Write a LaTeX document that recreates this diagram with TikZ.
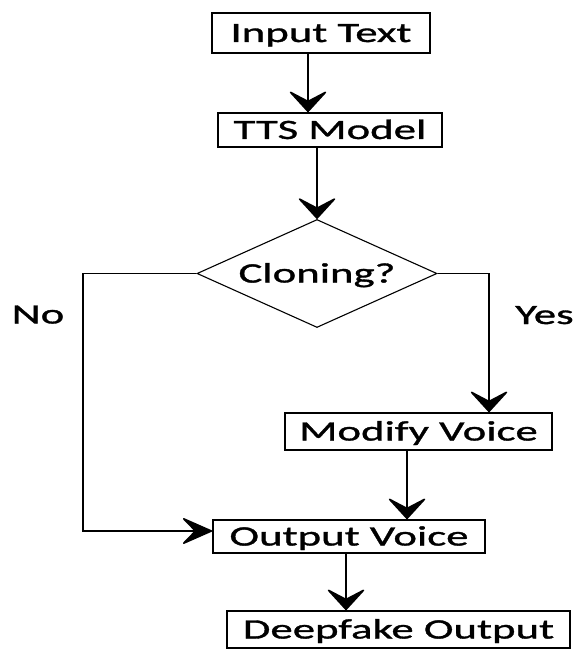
\documentclass[tikz,border=0pt]{standalone}
\usepackage{fontspec}
\setmainfont[FakeStretch=1.6,FakeBold=1.2]{Carlito}
\usetikzlibrary{shapes.geometric,arrows.meta}
\begin{document}
\begin{tikzpicture}[x=1pt,y=-1pt,
  every node/.style={font=\fontsize{28}{32}\selectfont, text height=18pt, text depth=0pt, inner sep=0pt},
  box/.style={draw, line width=1.6pt, rectangle},
  dec/.style={draw, line width=1.1pt, shape=diamond, aspect=2.4, minimum width=240pt, minimum height=108pt},
  conn/.style={line width=1.6pt},
  varrow/.style={conn, -{Stealth[length=23pt,width=42pt,inset=11pt,round]}},
  harrow/.style={conn, -{Stealth[length=33pt,width=29pt,inset=14pt,round]}},
  lbl/.style={}
]
\useasboundingbox (0,0) rectangle (574,650);
\node[box, minimum width=218pt, minimum height=40pt] (in) at (321,33) {Input Text};
\node[box, minimum width=224pt, minimum height=34pt] (tts) at (330,130) {TTS Model};
\node[dec] (dia) at (317,273.5) {Cloning?};
\node[box, minimum width=267pt, minimum height=37pt] (mv) at (418.5,431.5) {Modify Voice};
\node[box, minimum width=272pt, minimum height=33pt] (ov) at (349,536.5) {Output Voice};
\node[box, minimum width=343pt, minimum height=37pt] (do) at (398.5,629.5) {Deepfake Output};
\node[lbl] (no) at (38,314.5) {No};
\node[lbl, anchor=west] (yes) at (515,315) {Yes};
\coordinate (nocorner) at (83,273.5);

\draw[varrow] ([xshift=-13pt]in.south) -- ([xshift=-13pt]in.south |- tts.north);
\draw[varrow] ([xshift=-13pt]tts.south) -- (dia.north);
\draw[varrow] (dia.east) -| ([xshift=70.5pt]mv.north);
\draw[varrow] ([xshift=-11.5pt]mv.south) -- ([xshift=-11.5pt]mv.south |- ov.north);
\draw[varrow] ([xshift=-3pt]ov.south) -- ([xshift=-3pt]ov.south |- do.north);
\draw[harrow] (dia.west) -- (nocorner) |- ([yshift=5.5pt]ov.west);
\end{tikzpicture}
\end{document}
